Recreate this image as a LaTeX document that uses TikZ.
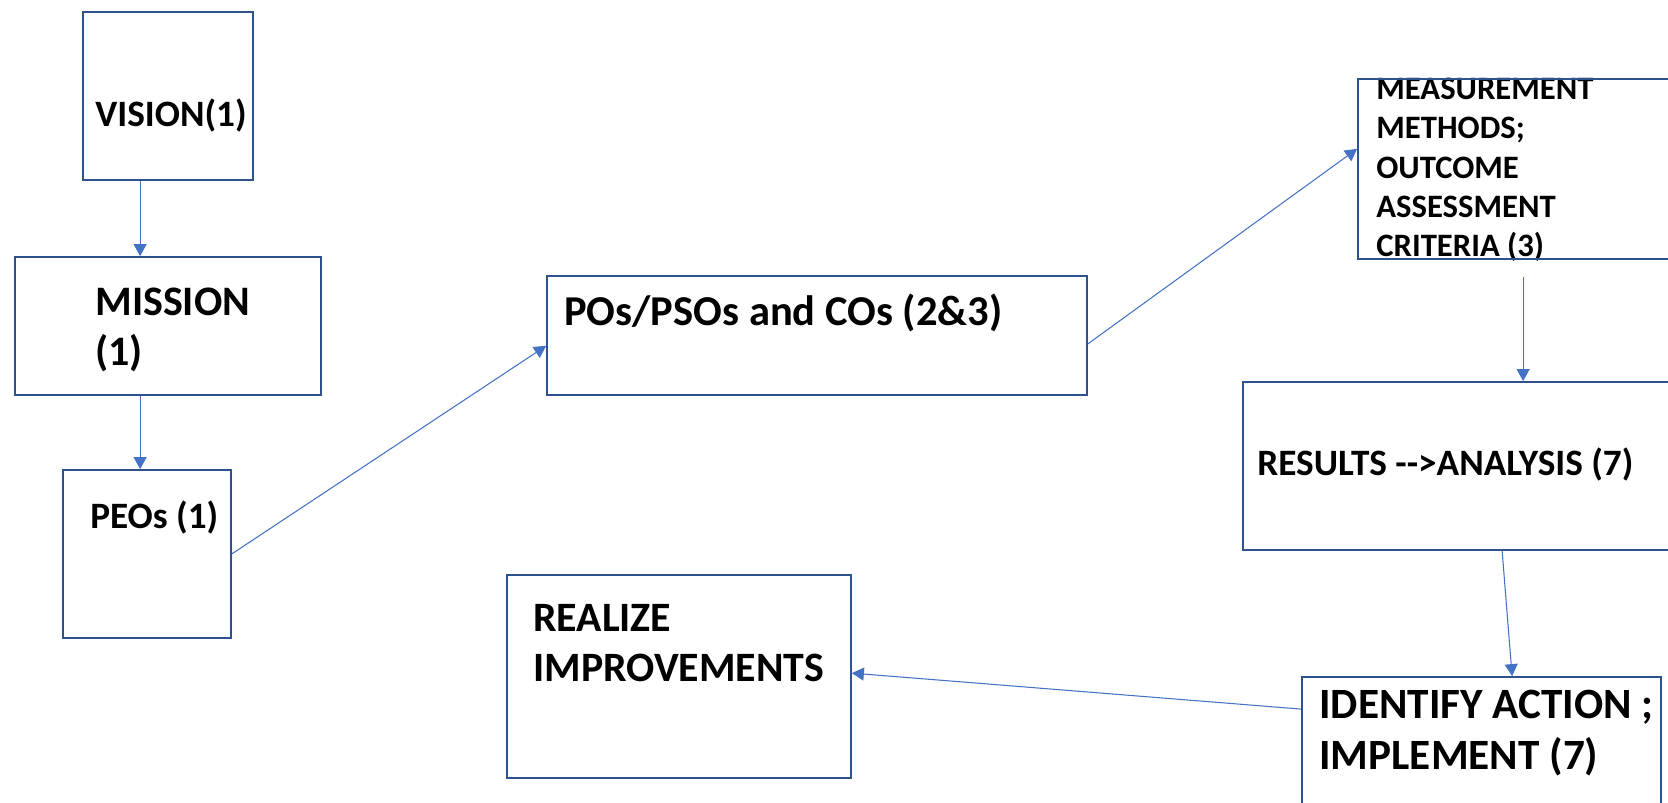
\documentclass[tikz,border=0pt]{standalone}
\usepackage{fontspec}
\setmainfont{Carlito}
\usetikzlibrary{fit,calc,arrows.meta}
\definecolor{boxblue}{HTML}{2F528F}
\definecolor{linkblue}{HTML}{4472C4}
\newcommand{\fs}[1]{\fontsize{#1pt}{1.22\dimexpr#1pt\relax}\selectfont\bfseries}
\tikzset{
  stagebox/.style={draw=boxblue, line width=1pt, inner sep=0pt, rectangle},
  label text/.style={anchor=base west, inner sep=0pt, text=black},
  link/.style={draw=linkblue, line width=0.6pt},
  flow/.style={link, -{Triangle[length=0.24cm, width=0.26cm]}}
}
\begin{document}
\begin{tikzpicture}[x=0.02cm, y=0.02cm]
\useasboundingbox (0,0) rectangle (1668,803);
\clip (0,0) rectangle (1668,803);
\fill[white] (0,0) rectangle (1668,803);

% labels
\node[label text, font=\fs{21.2}] (t-vision) at (95,676) {VISION(1)};
\node[label text, font=\fs{23.9}] (t-mission1) at (95,487) {MISSION};
\node[label text, font=\fs{23.9}] (t-mission2) at (95,437) {(1)};
\node[label text, font=\fs{21.2}] (t-peos) at (90,274) {PEOs (1)};
\node[label text, font=\fs{24.2}] (t-pos) at (564,477) {POs/PSOs and COs (2\&3)};
\node[label text, font=\fs{18.6}] (t-meas1) at (1376,703) {MEASUREMENT};
\node[label text, font=\fs{18.6}] (t-meas2) at (1376,664) {METHODS;};
\node[label text, font=\fs{18.6}] (t-meas3) at (1376,624) {OUTCOME};
\node[label text, font=\fs{18.6}] (t-meas4) at (1376,585) {ASSESSMENT};
\node[label text, font=\fs{18.6}] (t-meas5) at (1376,546) {CRITERIA (3)};
\node[label text, font=\fs{21.2}] (t-results) at (1257,327) {RESULTS -{}->ANALYSIS (7)};
\node[label text, font=\fs{24.6}] (t-ident1) at (1319,84) {IDENTIFY ACTION ;};
\node[label text, font=\fs{24.6}] (t-ident2) at (1319,33) {IMPLEMENT (7)};
\node[label text, font=\fs{23.8}] (t-real1) at (533,171) {REALIZE};
\node[label text, font=\fs{23.8}] (t-real2) at (533,121) {IMPROVEMENTS};

% stage boxes
\node[stagebox, fit={(83,623) (253,791)}] (vision) {};
\node[stagebox, fit={(15,408) (321,546)}] (mission) {};
\node[stagebox, fit={(63,165) (231,333)}] (peos) {};
\node[stagebox, fit={(547,408) (1087,527)}] (pos) {};
\node[stagebox, fit={(1358,544) (1720,724)}] (meas) {};
\node[stagebox, fit={(1243,253) (1720,421)}] (results) {};
\node[stagebox, fit={(1302,-27) (1661,126)}] (identify) {};
\node[stagebox, fit={(507,25) (851,228)}] (realize) {};

% connectors
\draw[flow] ($(vision.south west)+(58,0)$) -- ($(mission.north west)+(126,0)$);
\draw[flow] ($(mission.south west)+(126,0)$) -- ($(peos.north west)+(78,0)$);
\draw[flow] ($(peos.south east)+(0,85)$) -- ($(pos.south west)+(0,50)$);
\draw[flow] ($(pos.south east)+(0,52)$) -- ($(meas.south west)+(0,111)$);
\draw[flow] ($(meas.south west)+(166,-17)$) -- ($(results.north west)+(281,0)$);
\draw[flow] ($(results.south west)+(260,0)$) -- ($(identify.north west)+(211,0)$);
\draw[flow] ($(identify.north west)+(0,-33)$) -- ($(realize.north east)+(0,-99)$);
\end{tikzpicture}
\end{document}
